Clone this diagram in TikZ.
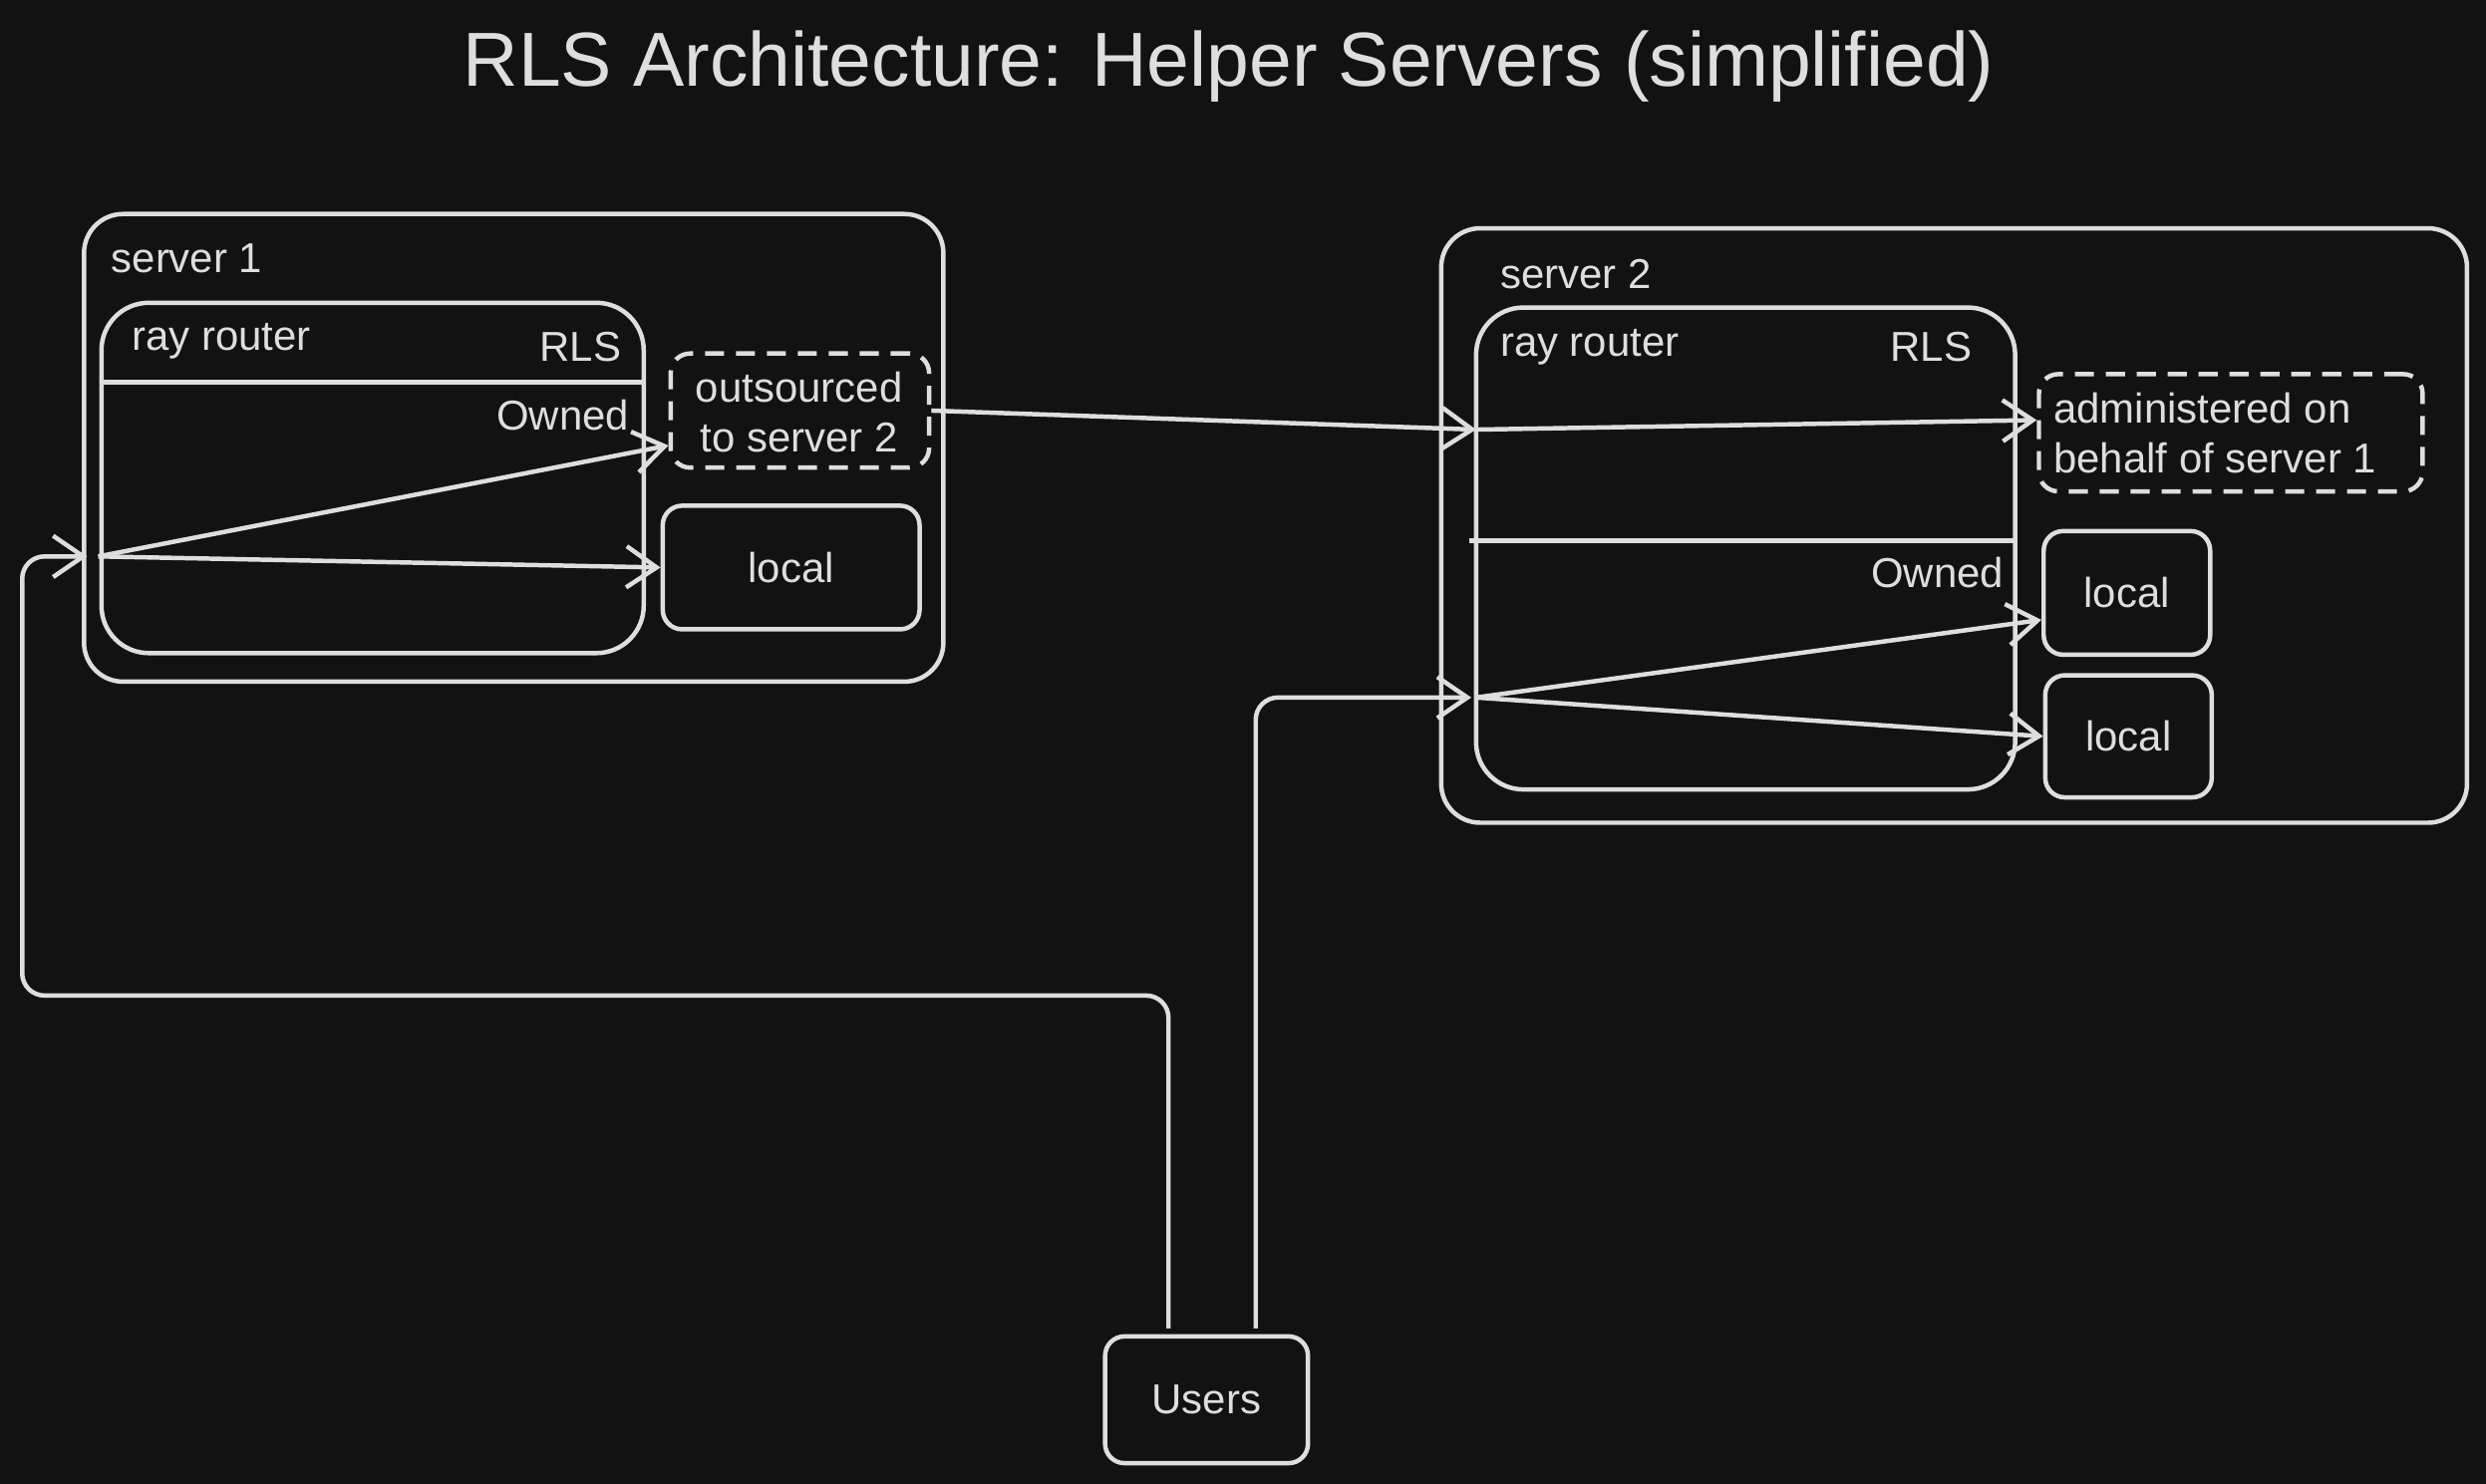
\documentclass[tikz,border=0pt]{standalone}
\usepackage{fontspec}
\setmainfont{Liberation Sans}
\usetikzlibrary{arrows.meta}
\usetikzlibrary{fit}
\definecolor{bgc}{HTML}{121212}
\definecolor{ink}{HTML}{DEDEDE}

\begin{document}
\begin{tikzpicture}[x=0.02cm, y=-0.02cm, line width=1.6pt,
    every node/.style={text=ink, font=\fontsize{15}{18}\selectfont},
    box/.style={draw=ink, inner sep=0pt, rounded corners=#1},
    box/.default=7pt,
    dbox/.style={dash pattern=on 0.24cm off 0.15cm},
    wire/.style={draw=ink},
    arr/.style={wire, -{Straight Barb[length=0.38cm, width=0.52cm]}}]
    % 背景
    \fill[bgc] (0,0) rectangle (1568,936);
    \node (title) at (775,42) {\fontsize{27.5}{33}\selectfont RLS Architecture: Helper Servers (simplified)};

    % server 1
    \node[box=14pt, fit={(53,135) (595,430)}] (srv1) {};
    \node[anchor=west] (srv1lbl) at (63,163) {server 1};
    \node[box=17pt, fit={(64,191) (406,412)}] (rr1) {};
    \node[anchor=west] (rr1lbl) at (76,215) {ray router};
    \node[anchor=east] (rls1) at (399,219) {RLS};
    \draw[wire] (rr1.west |- 0,241) -- (rr1.east |- 0,241);
    \node[anchor=east] (own1) at (404,262) {Owned};
    \node[box, dbox, fit={(423,223) (586,295)}] (out1) {};
    \node[align=center] (out1txt) at (504,260) {outsourced\\to server 2};
    \node[box, fit={(418,319) (580,397)}] (loc1) {};
    \node (loc1txt) at (loc1.center) {local};

    % server 2
    \node[box=14pt, fit={(909,144) (1556,519)}] (srv2) {};
    \node[anchor=west] (srv2lbl) at (939,173) {server 2};
    \node[box=17pt, fit={(931,194) (1271,498)}] (rr2) {};
    \node[anchor=west] (rr2lbl) at (939,219) {ray router};
    \node[anchor=east] (rls2) at (1251,219) {RLS};
    \draw[wire] (927,341) -- (rr2.east |- 0,341);
    \node[anchor=east] (own2) at (1271,361) {Owned};
    \node[box, dbox, fit={(1286,236) (1528,310)}] (adm2) {};
    \node[align=left, anchor=west] (adm2txt) at (1288,273) {administered on\\behalf of server 1};
    \node[box, fit={(1289,335) (1394,413)}] (loc2a) {};
    \node (loc2atxt) at (loc2a.center) {local};
    \node[box, fit={(1290,426) (1395,503)}] (loc2b) {};
    \node (loc2btxt) at (loc2b.center) {local};

    % users
    \node[box, fit={(697,843) (825,923)}] (users) {};
    \node (userstxt) at (users.center) {Users};

    % 连线端点
    \coordinate (u1) at (737,838);
    \coordinate (u2) at (792,838);
    \coordinate (bend) at (14,628);
    \coordinate (s1in) at (55,351);
    \coordinate (s1hub) at (62,351);
    \coordinate (s2top) at (931,271);
    \coordinate (s2in) at (928,440);
    \coordinate (s2hub) at (931,440);

    % 请求路径
    \draw[arr, rounded corners=8pt] (u1) |- (bend) |- (s1in);
    \draw[arr, rounded corners=8pt] (u2) |- (s2in);
    \draw[arr] (s1hub) -- ([yshift=-0.44cm]out1.west);
    \draw[arr] (s1hub) -- (loc1.west);
    \draw[arr] (out1.east) -- (s2top);
    \draw[arr] (s2top) -- ([yshift=0.16cm]adm2.west);
    \draw[arr] (s2hub) -- ([yshift=-0.34cm]loc2a.west);
    \draw[arr] (s2hub) -- (loc2b.west);
\end{tikzpicture}
\end{document}
